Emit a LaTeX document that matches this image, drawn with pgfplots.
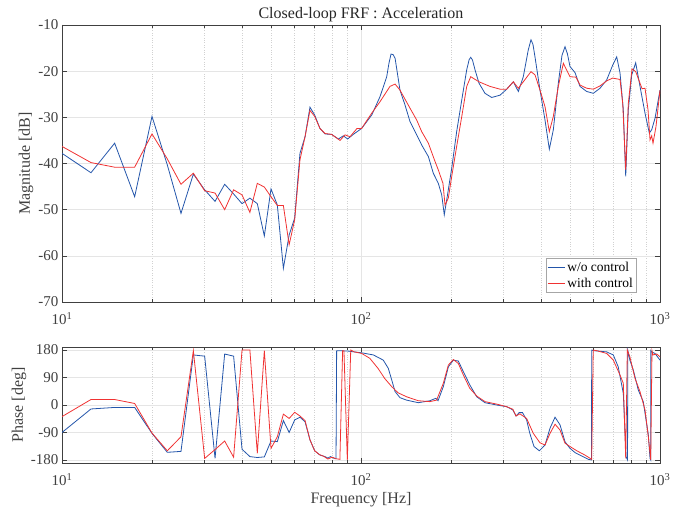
\documentclass[border=0pt]{standalone}
\usepackage{fontspec}
\setmainfont{Liberation Serif}
\usepackage{pgfplots}
\pgfplotsset{compat=1.18}
\definecolor{cblue}{RGB}{35,85,170}
\definecolor{cred}{RGB}{240,50,50}
\definecolor{axgray}{RGB}{64,64,64}
\begin{document}
\begin{tikzpicture}
\useasboundingbox (0pt,0pt) rectangle (685pt,513pt);
\begin{axis}[xmode=log, xmin=10, xmax=1000, scale only axis, width=598pt,
  axis line style={axgray, line width=0.6pt},
  tick style={axgray, line width=0.5pt},
  major tick length=5pt, minor tick length=3pt,
  tick align=inside, tick pos=both,
  xmajorgrids=true, xminorgrids=true, ymajorgrids=true,
  major grid style={black!10, line width=0.5pt},
  minor grid style={black!18, dotted, line width=0.4pt},
  xtick={10,100,1000},
  xticklabels={10\textsuperscript{1},10\textsuperscript{2},10\textsuperscript{3}},
  xticklabel style={yshift=-7pt},
  ticklabel style={font=\fontsize{15}{15}\selectfont, text=axgray},
  label style={font=\fontsize{16}{16}\selectfont, text=axgray},
  at={(62pt,211pt)}, anchor=south west, height=277pt,
  ymin=-70, ymax=-10, ytick={-70,-60,...,-10},
  title={Closed-loop FRF : Acceleration},
  title style={at={(axis description cs:0.5,1)}, anchor=base, yshift=0pt, font=\fontsize{16}{16}\selectfont, text=black!85},
  ylabel={Magnitude [dB]},
  ylabel style={at={(axis description cs:-0.0602,0.5)}, anchor=center},
  legend style={at={(axis description cs:0.961,0.034)}, anchor=south east, draw=black!35, fill=white, font=\fontsize{13.5}{13.5}\selectfont, inner sep=1.5pt, row sep=1pt},
  legend cell align=left,
  /pgf/number format/assume math mode=true,
]
\addplot[cblue, line width=0.8pt, no markers] coordinates {
(10,-37.8) (12.5,-42.0) (15,-35.6) (17.5,-47.2) (20,-29.8) (22.5,-40.3) (25,-50.8) (27.5,-42.3) (30,-45.7) (32.5,-48.2) (35,-44.5) (37.5,-46.6) (40,-48.7) (42.5,-47.5) (45,-48.7) (47.5,-55.7) (50,-45.5) (52.5,-49) (55,-62.7) (57.5,-55.5) (60,-51.8) (62.5,-37.8) (65,-34.2) (67.5,-27.8) (70,-29.5) (72.9,-32.4) (75.8,-33.6) (79.8,-33.7) (84,-34.7) (87.3,-34.0) (90.2,-34.7) (94.2,-33.7) (100.5,-32.4) (108.6,-29.5) (115.8,-25.5) (121.9,-21.2) (124,-18.3) (126,-16.3) (128,-16.4) (130,-17.2) (135,-24.1) (140.3,-27.3) (145.8,-30.9) (153.6,-33.8) (159.6,-36.0) (168,-38.5) (174.5,-42.1) (181.4,-44.3) (186.2,-46.8) (189.9,-51.1) (193.5,-47.9) (201.1,-41.0) (208.9,-33.1) (217.3,-26.2) (225.7,-19.7) (230,-17.5) (232.8,-17.0) (236,-17.6) (240.6,-19.7) (248.1,-22.6) (259.8,-24.8) (273.6,-25.7) (291.7,-25.2) (307.2,-23.9) (323.2,-22.3) (335.9,-24.4) (349,-21.2) (362.6,-15.4) (370.3,-13.2) (376,-14.2) (381.9,-16.9) (396.9,-24.1) (412.5,-30.6) (426.4,-36.9) (439.8,-32.7) (457,-22.6) (470,-16.6) (481.2,-14.7) (490,-16.2) (500,-19.0) (519.6,-20.3) (540,-23.3) (568.6,-24.4) (598.4,-24.8) (630,-23.7) (663.3,-21.9) (694.8,-18.7) (716.5,-16.9) (735,-20.4) (754,-28.4) (768,-42.8) (783.5,-28.4) (804.3,-20.8) (829.3,-18.2) (857.3,-23.3) (891,-29.1) (921,-33.4) (938,-32.7) (962.3,-30.2) (1000,-24.1)
};
\addlegendentry{w/o control}
\addplot[cred, line width=0.8pt, no markers] coordinates {
(10,-36.3) (12.5,-39.8) (15,-40.8) (17.5,-40.8) (20,-33.6) (22.5,-39) (25,-44.5) (27.5,-42.1) (30,-45.9) (32.5,-46.4) (35,-50.0) (37.5,-45.7) (40,-46.8) (42.5,-50.6) (45,-44.3) (47.5,-45.1) (50,-47.2) (52.5,-49.1) (55,-49.1) (57.5,-57.6) (60,-52.2) (62.5,-39.2) (65,-34.2) (67.5,-28.5) (70,-29.8) (72.9,-32.4) (75.8,-33.5) (79.8,-33.7) (85.1,-35.0) (88.4,-33.8) (91.9,-34.2) (97,-32.4) (100.5,-32.4) (108.6,-29.1) (115.8,-26.6) (125,-23.3) (130,-22.8) (135,-24.1) (145.8,-28.0) (153.6,-30.6) (159.6,-33.1) (168,-35.6) (176,-39.2) (181.4,-41.4) (188,-44.3) (191,-49.0) (195.9,-47.5) (201.1,-42.8) (208.9,-36.3) (217.3,-29.8) (225.7,-23.3) (232.8,-21.2) (248,-22.3) (270,-23.3) (291.7,-23.9) (307.2,-23.9) (323.2,-22.3) (335.9,-23.7) (349,-22.3) (370.3,-20.1) (381.9,-20.8) (396.9,-24.1) (412.5,-27.7) (426.4,-33.1) (439.8,-29.8) (457,-23.3) (475,-18.3) (500,-21.2) (523.6,-21.3) (540,-23.0) (568.6,-23.7) (598.4,-23.9) (630,-23.2) (663.3,-22.1) (694.8,-21.5) (735,-21.8) (750.5,-27.0) (768,-41.4) (783.5,-27.0) (806,-19.5) (829.3,-20.1) (857.3,-22.6) (870.9,-23.8) (891,-23.7) (912,-28.4) (926,-34.9) (938,-34.0) (947.6,-35.6) (969.6,-32.0) (1000,-24.1)
};
\addlegendentry{with control}
\end{axis}
\begin{axis}[xmode=log, xmin=10, xmax=1000, scale only axis, width=598pt,
  axis line style={axgray, line width=0.6pt},
  tick style={axgray, line width=0.5pt},
  major tick length=5pt, minor tick length=3pt,
  tick align=inside, tick pos=both,
  xmajorgrids=true, xminorgrids=true, ymajorgrids=true,
  major grid style={black!10, line width=0.5pt},
  minor grid style={black!18, dotted, line width=0.4pt},
  xtick={10,100,1000},
  xticklabels={10\textsuperscript{1},10\textsuperscript{2},10\textsuperscript{3}},
  xticklabel style={yshift=-7pt},
  ticklabel style={font=\fontsize{15}{15}\selectfont, text=axgray},
  label style={font=\fontsize{16}{16}\selectfont, text=axgray},
  at={(62pt,50pt)}, anchor=south west, height=116pt,
  ymin=-190, ymax=190, ytick={-180,-90,0,90,180},
  ylabel={Phase [deg]},
  ylabel style={at={(axis description cs:-0.072,0.5)}, anchor=center},
  xlabel={Frequency [Hz]},
  xlabel style={at={(axis description cs:0.5,-0.353)}, anchor=base},
  /pgf/number format/assume math mode=true,
]
\addplot[cblue, line width=0.8pt, no markers] coordinates {
(10,-90) (12.5,-13) (15,-8) (17.5,-8) (20,-93) (22.5,-155) (25,-152) (27.5,164) (30,160) (32.5,-175) (35,167) (37.5,160) (40,-145) (42.5,-169) (45,-172) (47.5,-170) (50,-118) (52.5,-120) (55,-51) (57.5,-90) (60,-49) (62.5,-40) (65,-55) (67.5,-114) (70,-150) (72.9,-164) (75.8,-169) (77.5,-174) (79,-169) (81,-174) (82.5,-176) (82.9,178) (85,178) (87.5,177) (90,177) (93,175) (100.5,171) (110,164) (118.7,147) (123.4,120) (126.7,82) (130,44) (135,24) (142,16) (155.5,7.5) (170,14) (178,22) (181,14) (188.5,60) (196,125) (203.6,147) (211.6,144) (220,109) (231.4,65) (243.8,27) (259.8,7.5) (284.3,0) (307,-5.5) (322,-16) (330,-36) (338,-25) (347,-25) (358,-49) (367,-93) (379,-136) (395,-150) (412.5,-131) (428.7,-76) (445.6,-40) (463,-65) (481,-120) (500,-142) (520,-156) (547,-167) (576,-178) (590,-180) (591,180) (600,178) (663,174) (698,164) (725,125) (754,38) (770,-169) (779,-180) (780,180) (793,147) (814,115) (846,49) (879,11) (914,-98) (926,-175) (931,-180) (932,178) (938,174) (962,169) (1000,147)
};
\addplot[cred, line width=0.8pt, no markers] coordinates {
(10,-38) (12.5,18) (15,18) (17.5,5) (20,-92) (22.5,-150) (25,-104) (27.5,178) (30,-175) (32.5,-146) (35,-118) (37.5,-171) (40,180) (42.5,180) (45,-158) (47.5,178) (50,-142) (52.5,-104) (55,-30) (57.5,-44) (60,-24) (62.5,-36) (65,-51) (67.5,-114) (70,-150) (72.5,-162) (75,-168) (77.5,-177) (80,-171) (82.5,-176) (85,-178) (86.8,178) (87.7,178) (90,-180) (92.4,180) (95,174) (100.5,169) (107,153) (114,120) (120,87) (126.7,60) (133,40) (142,27) (155.5,14) (170,11) (179,16) (188.5,71) (196,131) (203.6,149) (211.6,136) (220,98) (231,55) (244,29) (260,11) (284,3) (307,-5.5) (322,-14) (330,-36) (340,-29) (358,-44) (377,-93) (397,-124) (412.5,-131) (428.7,-93) (445.6,-63) (463,-82) (481,-125) (500,-136) (527,-150) (561,-164) (591,-178) (598,180) (614,178) (663,169) (698,147) (735,98) (754,71) (768,-175) (777.5,180) (793,158) (825,87) (857,44) (891,-16) (914,-104) (931,-180) (940,178) (948,164) (975,167) (1000,158)
};
\end{axis}
\end{tikzpicture}
\end{document}
